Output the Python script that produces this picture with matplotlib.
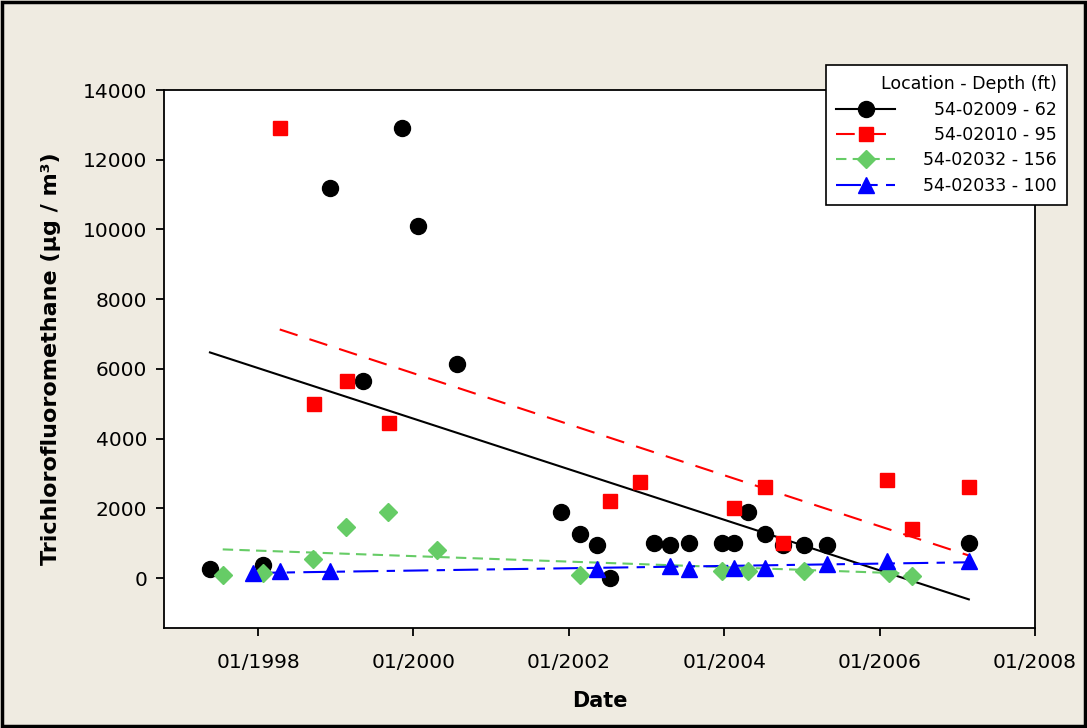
import numpy as np
import pandas as pd
import matplotlib
matplotlib.use('Agg')
import matplotlib.pyplot as plt
import matplotlib.dates as mdates
from matplotlib.patches import Rectangle

# 54-02009 - 62
dates_009 = ['1997-05-20', '1998-01-22', '1998-12-06', '1999-05-08', '1999-11-07', '2000-01-23',
             '2000-07-24', '2001-11-24', '2002-02-21', '2002-05-12', '2002-07-13', '2003-02-03',
             '2003-04-23', '2003-07-20', '2003-12-20', '2004-02-17', '2004-04-20', '2004-07-09',
             '2004-10-05', '2005-01-12', '2005-04-28', '2007-02-24']
vals_009 = [270, 380, 11200, 5650, 12900, 10100,
            6150, 1900, 1250, 950, 0, 1000,
            950, 1000, 1000, 1000, 1900, 1250,
            950, 950, 950, 1000]

# 54-02010 - 95
dates_010 = ['1998-04-13', '1998-09-20', '1999-02-24', '1999-09-09', '2002-07-13', '2002-12-02',
             '2004-02-17', '2004-07-09', '2004-10-05', '2006-02-06', '2006-06-04', '2007-02-24']
vals_010 = [12900, 5000, 5650, 4450, 2200, 2750, 2000, 2600, 1000, 2800, 1400, 2600]

# 54-02032 - 156
dates_032 = ['1997-07-19', '1998-01-26', '1998-09-17', '1999-02-17', '1999-09-06', '2000-04-20',
             '2002-02-21', '2003-12-20', '2004-04-20', '2005-01-12', '2006-02-13', '2006-06-04']
vals_032 = [100, 150, 550, 1450, 1900, 800, 100, 200, 200, 200, 150, 50]

# 54-02033 - 100
dates_033 = ['1997-12-10', '1998-04-13', '1998-12-06', '2002-05-12', '2003-04-23', '2003-07-20',
             '2004-02-17', '2004-07-09', '2005-04-28', '2006-02-06', '2007-02-24']
vals_033 = [150, 200, 200, 250, 350, 250, 300, 300, 400, 500, 500]

labels = ['54-02009 - 62', '54-02010 - 95', '54-02032 - 156', '54-02033 - 100']
xtick_years = [1998, 2000, 2002, 2004, 2006, 2008]
yticks = [0, 2000, 4000, 6000, 8000, 10000, 12000, 14000]

series = [
    (dates_009, vals_009, 'black', 'o', 11.5, '-'),
    (dates_010, vals_010, '#ff0000', 's', 9.5, (0, (9, 6))),
    (dates_032, vals_032, '#66cc66', 'D', 9.5, (0, (5, 3))),
    (dates_033, vals_033, '#0000ff', '^', 11, (0, (12, 4, 4, 4))),
]

plt.rcParams['font.family'] = 'DejaVu Sans'
fig = plt.figure(figsize=(10.87, 7.28), dpi=100, facecolor='#efebe1')
ax = fig.add_axes([164 / 1087, 1 - 628 / 728, (1035 - 164) / 1087, (628 - 90) / 728])
ax.set_facecolor('white')

handles = []
for d, v, col, mk, ms, ls in series:
    x = mdates.date2num(pd.to_datetime(d))
    y = np.array(v, dtype=float)
    ax.plot(x, y, linestyle='none', marker=mk, color=col, markersize=ms, zorder=3)
    # linear regression trend
    k, b = np.polyfit(x, y, 1)
    xs = np.sort(x)
    ax.plot(xs, k * xs + b, color=col, linestyle=ls, linewidth=1.5, zorder=2)
    h, = ax.plot([], [], color=col, linestyle=ls, linewidth=1.5, marker=mk, markersize=ms)
    handles.append(h)

ax.set_xlim(mdates.date2num(pd.Timestamp('1996-10-16')), mdates.date2num(pd.Timestamp('2008-01-01')))
ax.set_ylim(-1434, 14000)
ax.set_xticks([mdates.date2num(pd.Timestamp(f'{yr}-01-01')) for yr in xtick_years])
ax.set_xticklabels([f'01/{yr}' for yr in xtick_years])
ax.set_yticks(yticks)
ax.tick_params(labelsize=14.5, length=6, width=1.3, direction='out')
ax.tick_params(axis='x', pad=12)
ax.tick_params(axis='y', pad=6)
for s in ax.spines.values():
    s.set_linewidth(1.3)

ax.set_ylabel('Trichlorofluoromethane (µg / m³)', fontsize=16, fontweight='bold', labelpad=16)
ax.set_xlabel('Date', fontsize=15, fontweight='bold', labelpad=14)

leg = ax.legend(handles, labels, title='Location - Depth (ft)', loc='upper right',
                bbox_to_anchor=(1067 / 1087, 1 - 65 / 728), bbox_transform=fig.transFigure,
                borderaxespad=0, fontsize=12.5, title_fontsize=12.5, fancybox=False,
                framealpha=1, edgecolor='black', handlelength=3.4, handletextpad=1.6,
                alignment='right', labelspacing=0.42, borderpad=0.6)
leg.get_frame().set_linewidth(1.2)

# right-align legend entries
fig.canvas.draw()
renderer = fig.canvas.get_renderer()
widths = [t.get_window_extent(renderer).width for t in leg.get_texts()]
wmax = max(widths)
for t, w in zip(leg.get_texts(), widths):
    t.set_position((wmax - w, 0))

fig.patches.append(Rectangle((0.002, 0.003), 0.996, 0.994, transform=fig.transFigure,
                             fill=False, edgecolor='black', linewidth=2.5))

fig.savefig('out.png', dpi=100, facecolor=fig.get_facecolor())
